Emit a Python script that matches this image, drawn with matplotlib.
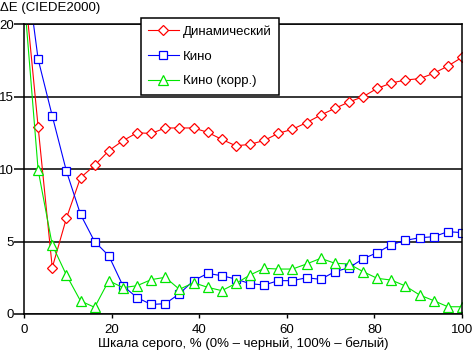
import numpy as np
import matplotlib
matplotlib.use("Agg")
import matplotlib.pyplot as plt

plt.rcParams["font.family"] = ["Liberation Sans", "DejaVu Sans"]

# 32 grey steps from 0% to 100%
gray_pct = np.arange(32) * 100 / 31

dynamic = [23.0, 12.9, 3.2, 6.6, 9.4, 10.25, 11.26, 11.95, 12.5, 12.45,
           12.83, 12.83, 12.83, 12.53, 12.04, 11.6, 11.7, 11.97, 12.46, 12.74,
           13.2, 13.72, 14.18, 14.62, 14.99, 15.56, 15.93, 16.14, 16.23, 16.6,
           17.1, 17.7]
cinema = [25.0, 17.57, 13.66, 9.86, 6.87, 4.99, 4.02, 1.95, 1.13, 0.66,
          0.71, 1.4, 2.3, 2.8, 2.64, 2.41, 2.09, 2.0, 2.3, 2.3,
          2.5, 2.39, 2.92, 3.19, 3.81, 4.23, 4.78, 5.08, 5.26, 5.33,
          5.68, 5.61]
cinema_corr = [22.0, 9.93, 4.76, 2.69, 0.9, 0.46, 2.3, 1.82, 1.95, 2.37,
               2.53, 1.7, 2.16, 1.84, 1.61, 2.11, 2.69, 3.15, 3.1, 3.1,
               3.45, 3.84, 3.5, 3.45, 2.92, 2.46, 2.34, 1.93, 1.31, 0.92,
               0.5, 0.5]

series = [
    ("Динамический", dynamic, "#ff0000", "D", 5.2),
    ("Кино", cinema, "#0000ff", "s", 5.5),
    ("Кино (корр.)", cinema_corr, "#00e600", "^", 7),
]

FS = 9.5

fig = plt.figure(figsize=(4.73, 3.53), dpi=100)
ax = fig.add_axes([24 / 473, 1 - 314 / 353, 438 / 473, 290 / 353])

for label, vals, color, marker, ms in series:
    ax.plot(gray_pct, vals, color=color, lw=0.8, marker=marker, ms=ms,
            mfc="white", mec=color, mew=0.9, label=label)

ax.set_xlim(0, 100)
ax.set_ylim(0, 20)
ax.set_xticks(range(0, 101, 20))
ax.set_yticks(range(0, 21, 5))
ax.yaxis.grid(True, color="black", lw=1.1)
ax.set_axisbelow(True)
for s in ax.spines.values():
    s.set_color("black")
    s.set_linewidth(1.1)
ax.tick_params(axis="y", length=7, width=1.1, pad=0.5, labelsize=FS)
ax.tick_params(axis="x", length=3, width=1, pad=4, labelsize=FS)

ax.set_xlabel("Шкала серого, % (0% – черный, 100% – белый)", fontsize=FS,
              labelpad=1)
fig.text(0.0, 1 - 2 / 353, "ΔE (CIEDE2000)", fontsize=FS, va="top", ha="left")

leg = ax.legend(loc="upper left", bbox_to_anchor=(141 / 473, 1 - 18 / 353),
                bbox_transform=fig.transFigure, fontsize=FS, fancybox=False,
                framealpha=1, edgecolor="black", handlelength=2.3,
                handletextpad=0.3, borderpad=0.55, labelspacing=0.95,
                borderaxespad=0)
leg.get_frame().set_linewidth(1.1)

fig.savefig("out.png", dpi=100)
